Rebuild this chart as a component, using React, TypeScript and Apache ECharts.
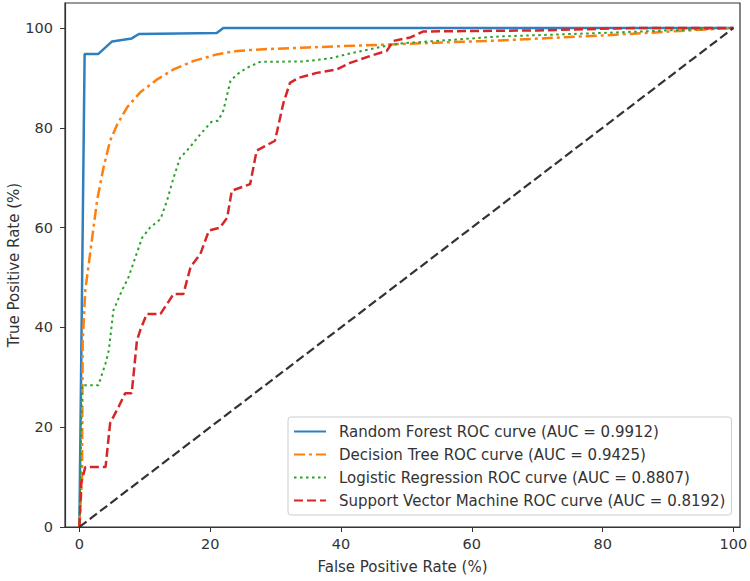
import React, { useEffect, useRef } from "react";
import * as echarts from "echarts";

const xTicks = [0, 20, 40, 60, 80, 100];
const yTicks = [0, 20, 40, 60, 80, 100];

const xLabel = "False Positive Rate (%)";
const yLabel = "True Positive Rate (%)";

const seriesNames = [
  "Random Forest ROC curve (AUC = 0.9912)",
  "Decision Tree ROC curve (AUC = 0.9425)",
  "Logistic Regression ROC curve (AUC = 0.8807)",
  "Support Vector Machine ROC curve (AUC = 0.8192)",
];

const rfPoints = [
  [0, 0], [0.8, 94.8], [2.9, 94.8], [5.0, 97.3], [8.0, 97.9], [9.1, 98.8],
  [21.0, 99.0], [22.0, 100], [100, 100],
];

const dtPoints = [
  [0, 0], [0.4, 10], [0.5, 37], [0.9, 47.4], [1.7, 55.4], [2.7, 65.4], [3.7, 72.1],
  [4.7, 77.4], [5.8, 80.7], [7.3, 84.1], [9.3, 87.1], [11.9, 89.7], [14.4, 91.7],
  [17.5, 93.4], [21.0, 94.7], [24.1, 95.4], [27.6, 95.7], [35.0, 96.1], [47.5, 96.7],
  [64.3, 97.5], [80.0, 98.5], [100, 100],
];

const lrPoints = [
  [0, 0], [0.4, 28.4], [2.9, 28.4], [4.0, 32.8], [4.5, 35.4], [5.2, 43.4], [6.5, 47.4],
  [7.5, 50.0], [9.6, 58.0], [10.8, 60.0], [12.4, 61.7], [13.4, 65.4], [14.4, 70.0],
  [15.4, 74.0], [16.5, 75.5], [18.5, 78.7], [20.2, 81.2], [21.2, 81.4], [22.0, 83.4],
  [23.1, 89.4], [24.1, 90.7], [25.6, 92.0], [27.6, 93.2], [34.3, 93.3], [38.3, 93.9],
  [41.4, 94.9], [46.5, 96.3], [49.0, 96.9], [56.7, 97.6], [64.3, 98.3], [80.0, 99.0],
  [100, 100],
];

const svmPoints = [
  [0, 0], [0.3, 9], [0.9, 12.0], [4.0, 12.0], [4.7, 20.8], [6.0, 24.1], [7.0, 26.8],
  [8.0, 26.8], [8.8, 37.4], [9.3, 39.4], [10.3, 42.7], [12.4, 42.7], [14.4, 46.7],
  [15.9, 46.7], [17.0, 52.1], [18.5, 54.7], [19.8, 59.4], [21.5, 60.0], [22.6, 62.0],
  [23.3, 67.4], [26.1, 68.7], [27.1, 75.4], [29.9, 77.4], [31.2, 85.0], [32.2, 89.0],
  [33.5, 90.0], [36.3, 91.0], [39.4, 91.7], [41.4, 93.0], [44.5, 94.4], [47.0, 95.4],
  [48.0, 97.4], [50.6, 98.1], [52.6, 99.3], [70.0, 99.5], [85.0, 100], [100, 100],
];

const diagonalPoints = [
  [0, 0], [100, 100],
];

const FONT = "DejaVu Sans";
const TEXT = "#333333";

export default function App() {
  const ref = useRef<HTMLDivElement>(null);
  useEffect(() => {
    const chart = echarts.init(ref.current!, null, { renderer: "svg" });
    const mk = (name: string, data: number[][], color: string, width: number, type: any, z: number) => ({
      name,
      type: "line",
      data,
      symbol: "none",
      showSymbol: false,
      z,
      itemStyle: { color },
      lineStyle: { color, width, type },
      emphasis: { disabled: true },
    });
    chart.setOption({
      animation: false,
      backgroundColor: "#ffffff",
      textStyle: { fontFamily: FONT },
      grid: {
        left: 65, right: 10, top: 3, bottom: 54,
        containLabel: false, outerBoundsMode: "none",
        show: true, borderColor: "#333", borderWidth: 1.2, backgroundColor: "#fff",
      },
      xAxis: {
        type: "value", min: -2.2, max: 101,
        name: xLabel, nameLocation: "middle", nameGap: 32, nameMoveOverlap: false,
        nameTextStyle: { fontSize: 15, color: TEXT, fontFamily: FONT },
        axisLine: { show: true, onZero: false, lineStyle: { color: "#333", width: 1.2 } },
        axisTick: { show: true, length: 5, customValues: xTicks, lineStyle: { color: "#333" } },
        axisLabel: { customValues: xTicks, fontSize: 14.5, color: TEXT, margin: 9, fontFamily: FONT },
        splitLine: { show: false },
      },
      yAxis: {
        type: "value", min: 0, max: 105,
        name: yLabel, nameLocation: "middle", nameGap: 44, nameMoveOverlap: false,
        nameTextStyle: { fontSize: 15, color: TEXT, fontFamily: FONT },
        axisLine: { show: true, onZero: false, lineStyle: { color: "#333", width: 1.2 } },
        axisTick: { show: true, length: 5, customValues: yTicks, lineStyle: { color: "#333" } },
        axisLabel: { customValues: yTicks, fontSize: 14.5, color: TEXT, margin: 12, fontFamily: FONT },
        splitLine: { show: false },
      },
      legend: {
        left: 288, top: 417, orient: "vertical",
        itemWidth: 32, itemHeight: 14, itemGap: 8,
        padding: [7, 6, 7, 5],
        backgroundColor: "rgba(255,255,255,0.85)",
        borderColor: "#cccccc", borderWidth: 1, borderRadius: 3,
        itemStyle: { opacity: 0 },
        textStyle: { fontSize: 15, color: TEXT, fontFamily: FONT, padding: [0, 0, 0, 8] },
        data: seriesNames,
        selectedMode: false,
      },
      series: [
        mk(seriesNames[0], rfPoints, "#2f7fc0", 2.5, "solid", 2),
        mk(seriesNames[1], dtPoints, "#ff7f0e", 2.5, [11, 4, 3, 4], 3),
        mk(seriesNames[2], lrPoints, "#2ca02c", 2, [2.5, 3.5], 4),
        mk(seriesNames[3], svmPoints, "#d62728", 2.5, [9, 4], 5),
        mk("diagonal", diagonalPoints, "#333333", 2.2, [9, 4], 6),
      ],
    });
    return () => chart.dispose();
  }, []);
  return (
    <div
      ref={ref}
      style={{ position: "absolute", left: 0, top: 0, width: 750, height: 581 }}
    />
  );
}
